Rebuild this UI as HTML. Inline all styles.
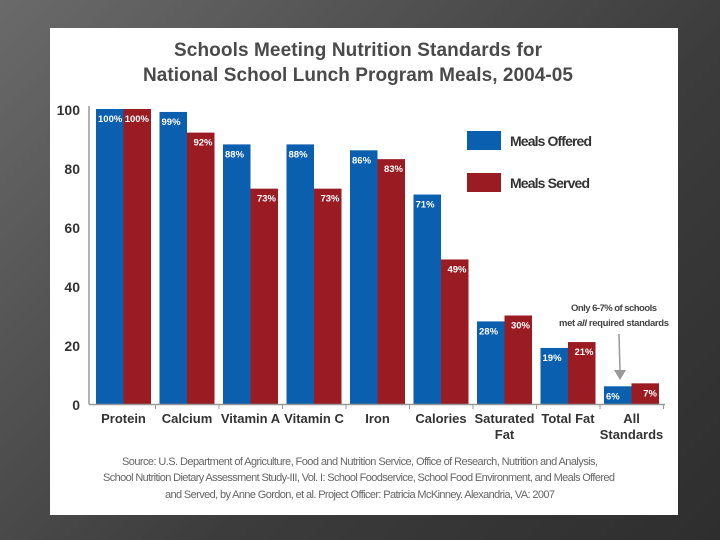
<!DOCTYPE html>
<html><head><meta charset="utf-8"><style>
body{margin:0;width:720px;height:540px;overflow:hidden;background:linear-gradient(135deg,#6a6a6a,#3c3c3c 60%,#2e2e2e);font-family:"Liberation Sans",sans-serif}
#panel{position:absolute;left:50px;top:28px;width:628px;height:487px;background:#fff}
svg{position:absolute;left:0;top:0}
</style></head><body>
<div id="panel"></div>
<svg width="720" height="540" id="chart">
<text x="358" y="56" text-anchor="middle" font-size="19" font-weight="bold" fill="#4a4a4a" textLength="368">Schools Meeting Nutrition Standards for</text>
<text x="358" y="81" text-anchor="middle" font-size="19" font-weight="bold" fill="#4a4a4a" textLength="430">National School Lunch Program Meals, 2004-05</text>
<g id="g"></g>
<rect x="467" y="131" width="34" height="19" fill="#0a5fae"/>
<text x="510" y="146" font-size="14" font-weight="bold" fill="#333" textLength="82">Meals Offered</text>
<rect x="467" y="173" width="34" height="19" fill="#9a1b22"/>
<text x="510" y="188" font-size="14" font-weight="bold" fill="#333" textLength="80">Meals Served</text>
<text x="614" y="311" text-anchor="middle" font-size="9.5" font-weight="bold" fill="#444" textLength="86">Only 6-7% of schools</text>
<text x="614" y="326" text-anchor="middle" font-size="9.5" font-weight="bold" fill="#444" textLength="110">met <tspan font-style="italic">all</tspan> required standards</text>
<line x1="619" y1="334" x2="620" y2="372" stroke="#999" stroke-width="1.5"/>
<polygon points="614,370 626,370 620,380" fill="#999"/>
<g font-size="11" fill="#666" text-anchor="middle">
<text x="360" y="465" textLength="476">Source: U.S. Department of Agriculture, Food and Nutrition Service, Office of Research, Nutrition and Analysis,</text>
<text x="359" y="481" textLength="512">School Nutrition Dietary Assessment Study-III, Vol. I: School Foodservice, School Food Environment, and Meals Offered</text>
<text x="360" y="498" textLength="390">and Served, by Anne Gordon, et al. Project Officer: Patricia McKinney. Alexandria, VA: 2007</text>
</g>
</svg>
<script>
const categories=[["Protein"],["Calcium"],["Vitamin A"],["Vitamin C"],["Iron"],["Calories"],["Saturated","Fat"],["Total Fat"],["All","Standards"]];
const offered=[100,99,88,88,86,71,28,19,6];
const served=[100,92,73,73,83,49,30,21,7];
const yTicks=[0,20,40,60,80,100];
const NS="http://www.w3.org/2000/svg",g=document.getElementById('g');
const y=v=>404-v*2.95, gx=i=>96+i*63.5;
function mk(t,a,txt){const e=document.createElementNS(NS,t);for(const k in a)e.setAttribute(k,a[k]);if(txt!=null)e.textContent=txt;g.appendChild(e);return e;}
yTicks.forEach(t=>{const e=mk('text',{x:80,y:y(t)+6,'text-anchor':'end','font-size':14,'font-weight':'bold',fill:'#333'},t);

});
categories.forEach((c,i)=>{
 const x=gx(i);
 const b=mk('rect',{x:x,y:y(offered[i]),width:27.5,height:offered[i]*2.95,fill:'#0a5fae'});
 
 
 const r=mk('rect',{x:x+27.5,y:y(served[i]),width:27.5,height:served[i]*2.95,fill:'#9a1b22'});
 
 
 const lo=mk('text',{x:x+2,y:y(offered[i])+13,'font-size':9.5,'font-weight':'bold',fill:'#fff'},offered[i]+'%');
 
 
 const ls=mk('text',{x:x+53,y:y(served[i])+13,'text-anchor':'end','font-size':9.5,'font-weight':'bold',fill:'#fff'},served[i]+'%');
 
 
 c.forEach((s,j)=>{const t=mk('text',{x:x+27.5,y:423+j*16,'text-anchor':'middle','font-size':13,'font-weight':'bold',fill:'#333'},s);
 
 });
 const tk=mk('line',{x1:x+59.5,y1:404,x2:x+59.5,y2:409,stroke:'#999'});
 
 
});
const ya=mk('line',{x1:89,y1:106,x2:89,y2:404.5,stroke:'#999','stroke-width':1.5});


const xa=mk('line',{x1:89,y1:404.5,x2:665,y2:404.5,stroke:'#999','stroke-width':1.5});


</script>
</body></html>
